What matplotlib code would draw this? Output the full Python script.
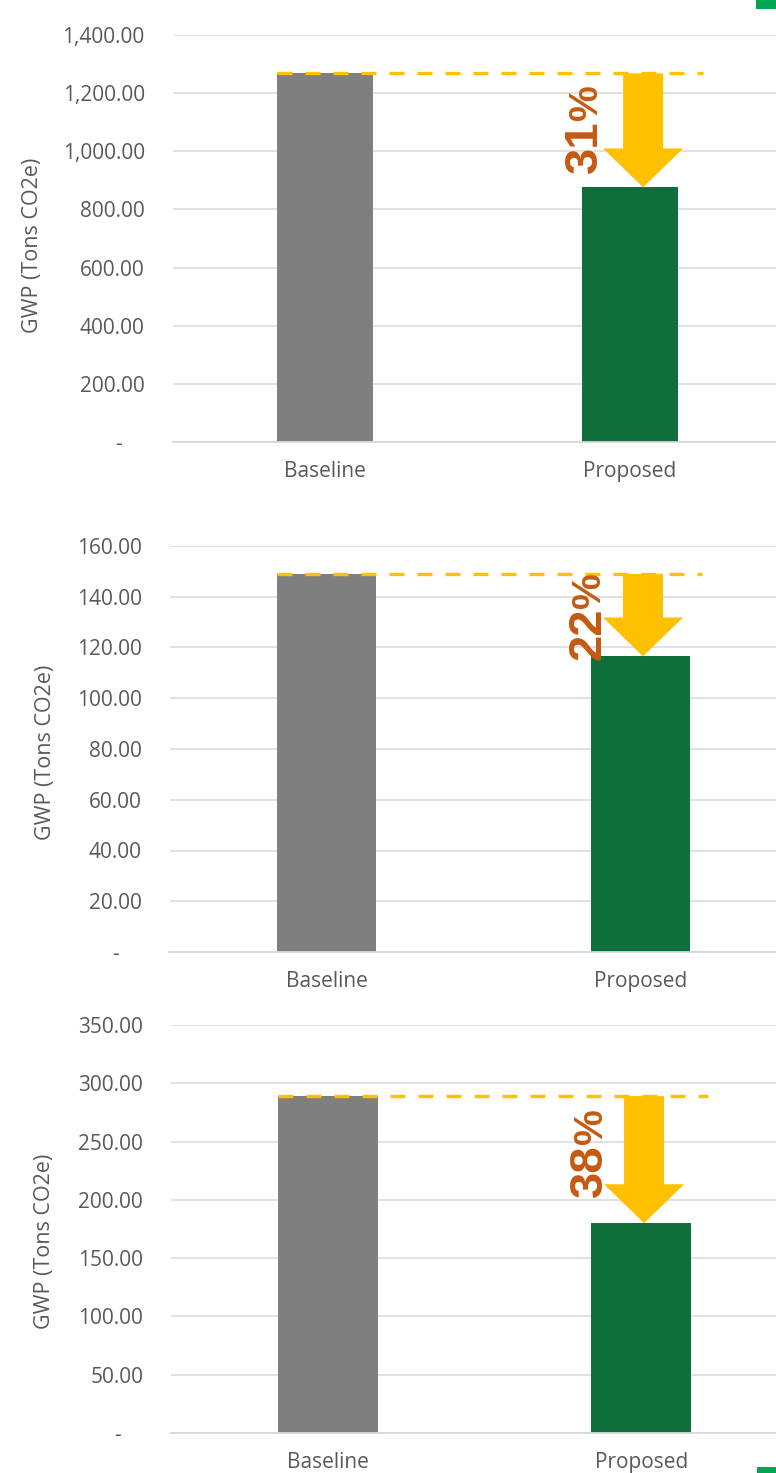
import matplotlib
matplotlib.use("Agg")
import matplotlib.pyplot as plt
from matplotlib.patches import Rectangle, ArrowStyle
from matplotlib.ticker import FixedLocator, FuncFormatter

# ---- data -------------------------------------------------------------
categories = ["Baseline", "Proposed"]

panel1_values = [1268.0, 876.0]
panel2_values = [149.0, 116.5]
panel3_values = [289.0, 180.0]

panel1_ticks = [0, 200, 400, 600, 800, 1000, 1200, 1400]
panel2_ticks = [0, 20, 40, 60, 80, 100, 120, 140, 160]
panel3_ticks = [0, 50, 100, 150, 200, 250, 300, 350]

y_label = "GWP (Tons CO2e)"

# ---- style ------------------------------------------------------------
W, H, DPI = 776, 1473, 100
GRAY = "#7F7F7F"
GREEN = "#0E6F3D"
YELLOW = "#FFC000"
ORANGE = "#C55A11"
GRID = "#D9D9D9"
TEXT = "#595959"
MARK = "#00A651"
FONT = "Open Sans"
PCT_FONT = "Liberation Sans"

fig = plt.figure(figsize=(W / DPI, H / DPI), dpi=DPI)
fig.patch.set_facecolor("white")


def fx(px):
    return px / W


def fy(py):
    return 1 - py / H


def fmt(v, _pos=None):
    if v == 0:
        return "-    "
    return f"{v:,.2f}"


# layout per panel: plot box (px), bar width, arrow x, dashed-line end,
# y-label centre (px), percent text anchor (px)
panels = [
    dict(values=panel1_values, ticks=panel1_ticks, box=(172.5, 782.5, 35, 442),
         bw=0.315, arrow_x=1.043, line_end=1.239, ylab=(33, 245), pct=(597, 173)),
    dict(values=panel2_values, ticks=panel2_ticks, box=(169.5, 797.5, 546, 952),
         bw=0.315, arrow_x=1.008, line_end=1.196, ylab=(46, 752), pct=(600, 660)),
    dict(values=panel3_values, ticks=panel3_ticks, box=(171.0, 798.0, 1025, 1433),
         bw=0.32, arrow_x=1.009, line_end=1.213, ylab=(45, 1241), pct=(602, 1197)),
]

arrow_style = ArrowStyle.Simple(head_length=28.0, head_width=57.6, tail_width=28.8)
digit_texts = []

for p in panels:
    x0, x1, yt, yb = p["box"]
    ax = fig.add_axes([fx(x0), fy(yb), (x1 - x0) / W, (yb - yt) / H])
    ax.set_facecolor("none")
    base, prop = p["values"]
    ticks = p["ticks"]

    ax.set_xlim(-0.5, 1.5)
    ax.set_ylim(ticks[0], ticks[-1])
    ax.yaxis.set_major_locator(FixedLocator(ticks))
    ax.yaxis.set_major_formatter(FuncFormatter(fmt))
    ax.set_xticks([0, 1])
    ax.set_xticklabels(categories)

    ax.grid(axis="y", color=GRID, linewidth=1.1, zorder=0)
    ax.set_axisbelow(True)
    for s in ("left", "right", "top"):
        ax.spines[s].set_visible(False)
    ax.spines["bottom"].set_color(GRID)
    ax.spines["bottom"].set_linewidth(1.3)
    ax.tick_params(axis="both", length=0, colors=TEXT, labelsize=15)
    ax.tick_params(axis="y", pad=20)
    ax.tick_params(axis="x", pad=14)
    for lab in ax.get_xticklabels() + ax.get_yticklabels():
        lab.set_fontfamily(FONT)

    ax.bar([0, 1], p["values"], width=p["bw"], color=[GRAY, GREEN],
           zorder=2, linewidth=0)

    # dashed reference line at the baseline level
    lw = 2.4
    ax.plot([-p["bw"] / 2, p["line_end"]], [base, base], color=YELLOW,
            linewidth=lw, dashes=(15 * 0.72 / lw, 13 * 0.72 / lw),
            solid_capstyle="butt", dash_capstyle="butt", zorder=3, clip_on=False)

    # reduction arrow from baseline down to proposed
    ax.annotate("", xy=(p["arrow_x"], prop), xytext=(p["arrow_x"], base),
                arrowprops=dict(arrowstyle=arrow_style, mutation_scale=1,
                                shrinkA=0, shrinkB=0, fc=YELLOW, ec="none",
                                lw=0),
                zorder=4, annotation_clip=False)

    # y axis title
    fig.text(fx(p["ylab"][0]), fy(p["ylab"][1]), y_label, rotation=90,
             ha="center", va="center", fontsize=15.5, color=TEXT, family=FONT)

    # percentage label
    pct = round((1 - prop / base) * 100)
    px, py = p["pct"]
    t = fig.text(fx(px), fy(py), f"{pct}", rotation=90, rotation_mode="anchor",
                 ha="left", va="baseline", fontsize=34, fontweight="bold",
                 color=ORANGE, family=PCT_FONT)
    digit_texts.append((t, px, py))

# place the smaller percent sign right after the digits
fig.canvas.draw()
renderer = fig.canvas.get_renderer()
for t, px, py in digit_texts:
    bb = t.get_window_extent(renderer)
    fig.text(fx(px), fy(py - bb.height), "%", rotation=90,
             rotation_mode="anchor", ha="left", va="baseline", fontsize=29,
             fontweight="bold", color=ORANGE, family=PCT_FONT)

# small green edge marks
fig.add_artist(Rectangle((fx(756), fy(9)), fx(20), 9 / H, transform=fig.transFigure,
                         color=MARK, lw=0))
fig.add_artist(Rectangle((fx(757), 0), fx(19), 6 / H, transform=fig.transFigure,
                         color=MARK, lw=0))

fig.savefig("out.png", dpi=DPI)
